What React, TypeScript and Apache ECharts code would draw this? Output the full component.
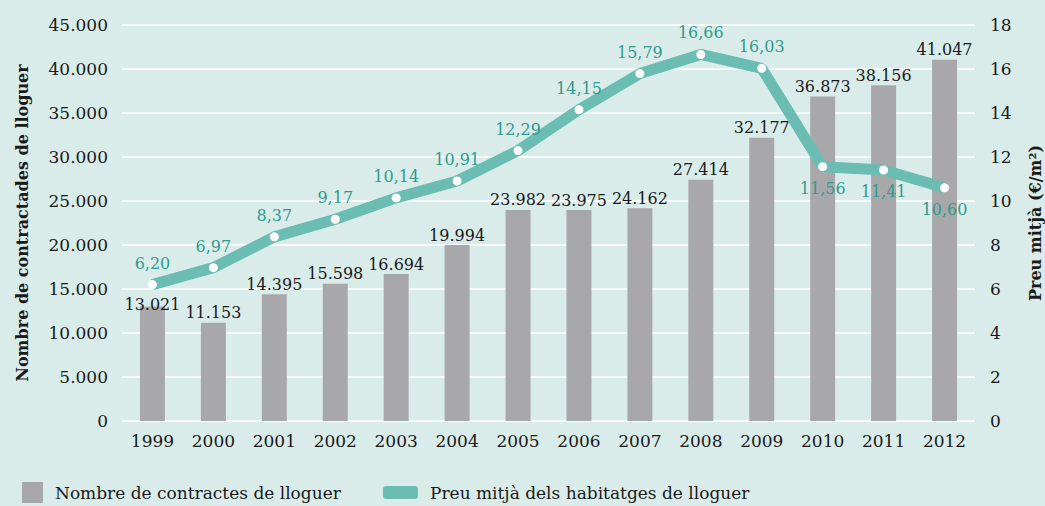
import React, { useEffect, useRef } from "react";
import * as echarts from "echarts";

const years = ["1999","2000","2001","2002","2003","2004","2005","2006","2007","2008","2009","2010","2011","2012"];
const contracts = [13021, 11153, 14395, 15598, 16694, 19994, 23982, 23975, 24162, 27414, 32177, 36873, 38156, 41047];
const prices = [6.20, 6.97, 8.37, 9.17, 10.14, 10.91, 12.29, 14.15, 15.79, 16.66, 16.03, 11.56, 11.41, 10.60];
const belowPriceLabels = ["2010", "2011", "2012"];

const FONT = "DejaVu Serif";
const BG = "#d9ecea";
const BAR = "#a8a8ab";
const LINE = "#6bbcb2";
const LABEL_TEAL = "#2f9c8e";
const INK = "#1a1a1a";

const fmtThousands = (v: number) => {
  if (v === 0) return "0";
  return String(v).replace(/\B(?=(\d{3})+(?!\d))/g, ".");
};

export default function App() {
  const ref = useRef<HTMLDivElement>(null);
  useEffect(() => {
    if (!ref.current) return;
    const chart = echarts.init(ref.current, undefined, { renderer: "svg" });
    chart.setOption({
      animation: false,
      backgroundColor: BG,
      textStyle: { fontFamily: FONT },
      grid: { left: 122, right: 70, top: 25, bottom: 85, containLabel: false, outerBoundsMode: "none" },
      legend: [
        {
          left: 22, top: 482, padding: 0, itemWidth: 21, itemHeight: 21, itemGap: 10,
          icon: "rect",
          textStyle: { fontFamily: FONT, fontSize: 17, color: INK, padding: [0, 0, 0, 7] },
          data: [{ name: "Nombre de contractes de lloguer" }],
        },
        {
          left: 383, top: 484, padding: 0, itemWidth: 35, itemHeight: 13,
          icon: "roundRect",
          textStyle: { fontFamily: FONT, fontSize: 17, color: INK, padding: [0, 0, 0, 7] },
          data: [{ name: "Preu mitjà dels habitatges de lloguer", itemStyle: { color: LINE } }],
        },
      ],
      xAxis: {
        type: "category",
        data: years,
        axisLine: { show: false },
        axisTick: { show: false },
        axisLabel: { fontFamily: FONT, fontSize: 17, color: INK, margin: 11 },
      },
      yAxis: [
        {
          type: "value", min: 0, max: 45000, interval: 5000,
          name: "Nombre de contractades de lloguer",
          nameLocation: "middle", nameGap: 92, nameRotate: 90,
          nameTextStyle: { fontFamily: FONT, fontSize: 16, fontWeight: "bold", color: INK },
          axisLine: { show: false }, axisTick: { show: false },
          axisLabel: { fontFamily: FONT, fontSize: 17, color: INK, margin: 14, formatter: fmtThousands },
          splitLine: { lineStyle: { color: "#ffffff", width: 1.5 } },
        },
        {
          type: "value", min: 0, max: 18, interval: 2, position: "right",
          name: "Preu mitjà (€/m²)",
          nameLocation: "middle", nameGap: 52, nameRotate: 90,
          nameTextStyle: { fontFamily: FONT, fontSize: 16, fontWeight: "bold", color: INK },
          axisLine: { show: false }, axisTick: { show: false },
          axisLabel: { fontFamily: FONT, fontSize: 17, color: INK, margin: 15 },
          splitLine: { show: false },
        },
      ],
      series: [
        {
          name: "Nombre de contractes de lloguer",
          type: "bar",
          yAxisIndex: 0,
          barWidth: 25,
          itemStyle: { color: BAR },
          data: contracts.map((v, i) => ({
            value: v,
            label: i === 0 ? { offset: [0, 8] } : undefined,
          })),
          label: {
            show: true, position: "top", distance: 2,
            fontFamily: FONT, fontSize: 16, color: INK,
            formatter: (p: any) => fmtThousands(p.value),
          },
          z: 2,
        },
        {
          name: "Preu mitjà dels habitatges de lloguer",
          type: "line",
          yAxisIndex: 1,
          symbol: "circle",
          symbolSize: 9,
          lineStyle: { color: LINE, width: 11 },
          itemStyle: { color: "#ffffff" },
          data: prices.map((v, i) => ({
            value: v,
            label: belowPriceLabels.includes(years[i]) ? { position: "bottom", distance: 9 } : undefined,
          })),
          label: {
            show: true, position: "top", distance: 9,
            fontFamily: FONT, fontSize: 16, color: LABEL_TEAL,
            formatter: (p: any) => p.value.toFixed(2).replace(".", ","),
          },
          z: 3,
        },
      ],
    });
    return () => chart.dispose();
  }, []);
  return <div ref={ref} style={{ width: 1045, height: 506, position: "absolute", left: 0, top: 0 }} />;
}
